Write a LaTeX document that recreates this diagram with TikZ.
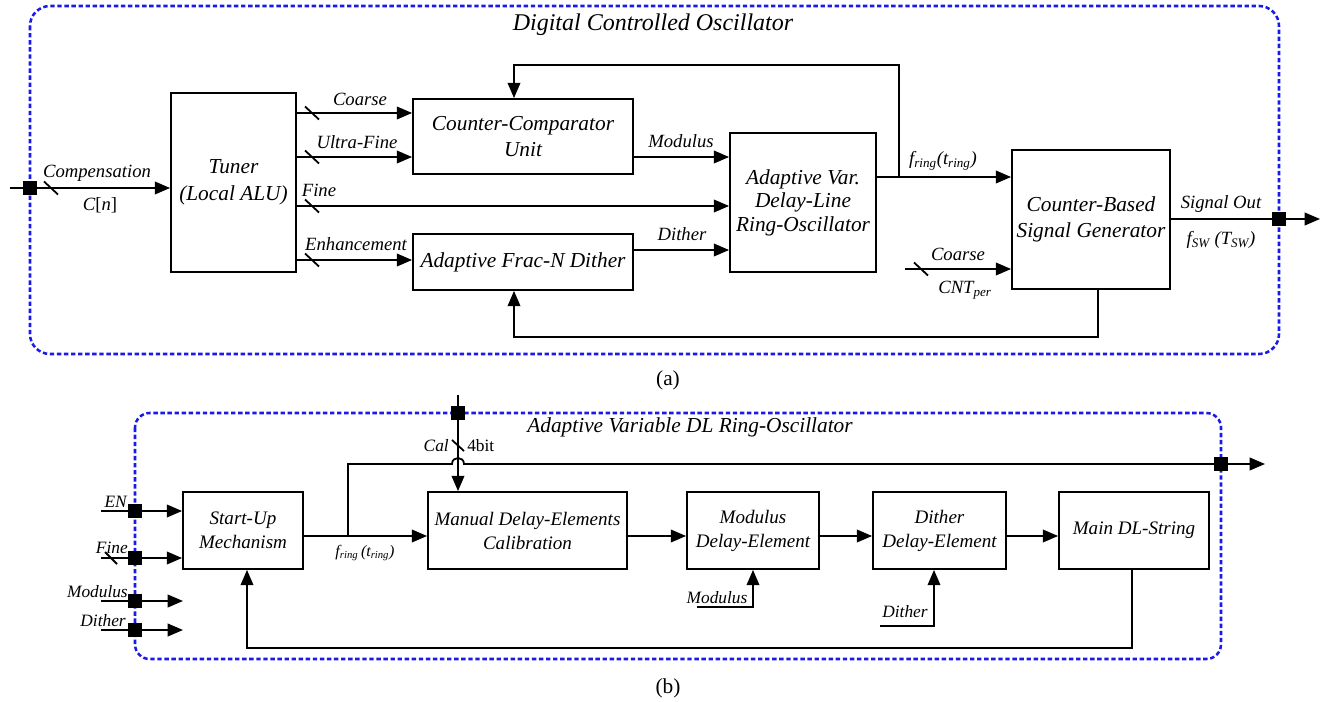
\documentclass[tikz,border=0pt]{standalone}
\usepackage{fontspec}
\setmainfont{Liberation Serif}
\usetikzlibrary{arrows.meta}
\begin{document}
\begin{tikzpicture}[x=0.75pt,y=-0.75pt,
  wire/.style={line width=1.35pt},
  arr/.style={wire,-{Triangle[length=11.5pt,width=9.5pt]}},
  blk/.style={draw,line width=1.35pt,align=center,inner sep=2pt,
              font=\fontsize{16}{19}\selectfont\itshape},
  blkb/.style={blk,font=\fontsize{14.3}{18}\selectfont\itshape},
  port/.style={fill=black,minimum size=10.5pt,inner sep=0pt},
  frame/.style={draw={rgb,255:red,25;green,25;blue,235},line width=1.9pt,
                dash pattern=on 3.3pt off 2pt},
  lbl/.style={inner sep=0pt,font=\fontsize{14}{16}\selectfont\itshape},
  lbls/.style={inner sep=0pt,font=\fontsize{13}{15}\selectfont\itshape},
  ttl/.style={inner sep=0pt,font=\fontsize{18}{20}\selectfont\itshape},
  captxt/.style={inner sep=0pt,font=\fontsize{16}{18}\selectfont}]
\useasboundingbox (0,0) rectangle (1335,702);

% ---------------- (a) Digital controlled oscillator ----------------
\draw[frame,rounded corners=15pt] (30,6) rectangle (1279,354);
\node[ttl] (ttla) at (653,25) {Digital Controlled Oscillator};

\node[blk,minimum width=93.75pt,minimum height=134.25pt,font=\fontsize{16}{20.5}\selectfont\itshape] (tuner) at (233.5,182.5) {Tuner\\(Local ALU)};
\node[blk,minimum width=165pt,minimum height=56.25pt] (ccu) at (523,136.5) {Counter-Comparator\\Unit};
\node[blk,minimum width=165pt,minimum height=42pt] (dith) at (523,262) {Adaptive Frac-N Dither};
\node[blk,minimum width=109.5pt,minimum height=104.25pt,font=\fontsize{16}{17.6}\selectfont\itshape] (avdl) at (803,202.5) {Adaptive Var.\\Delay-Line\\Ring-Oscillator};
\node[blk,minimum width=118.5pt,minimum height=104.25pt] (cbsg) at (1091,219.5) {Counter-Based\\Signal Generator};

% compensation input
\coordinate (cin) at (10,188);
\draw[arr] (cin) -- (tuner.west |- cin);
\node[port] (pa1) at (30,188) {};
\draw[wire] (44,181.5) -- (58,194.5);
\node[lbl] (lcomp) at (97,173) {Compensation};
\node[lbl] (lcn) at (100,205) {\textit{C}\textup{[}\textit{n}\textup{]}};

% tuner outputs
\coordinate (yCo) at (0,113);
\coordinate (yUf) at (0,157);
\coordinate (yFi) at (0,206);
\coordinate (yEn) at (0,260);
\draw[arr] (tuner.east |- yCo) -- (ccu.west |- yCo);
\draw[arr] (tuner.east |- yUf) -- (ccu.west |- yUf);
\draw[arr] (tuner.east |- yFi) -- (avdl.west |- yFi);
\draw[arr] (tuner.east |- yEn) -- (dith.west |- yEn);
\foreach \yy in {113,157,206,260}
  \draw[wire] (305,\yy-6.5) -- (319,\yy+6.5);
\node[lbl] (lco) at (360,99) {Coarse};
\node[lbl] (luf) at (357,142) {Ultra-Fine};
\node[lbl] (lfi) at (319,190) {Fine};
\node[lbl] (len) at (356,244) {Enhancement};

% into the ring oscillator
\coordinate (yMo) at (0,157);
\coordinate (yDi) at (0,250);
\draw[arr] (ccu.east |- yMo) -- (avdl.west |- yMo);
\draw[arr] (dith.east |- yDi) -- (avdl.west |- yDi);
\node[lbl] (lmo) at (681,141) {Modulus};
\node[lbl] (ldi) at (682,234) {Dither};

% ring frequency and feedback to the counter-comparator
\coordinate (yRi) at (0,177);
\coordinate (jR) at (899,177);
\coordinate (fbB) at (514,65);
\draw[arr] (avdl.east |- yRi) -- (cbsg.west |- yRi);
\draw[arr] (jR) |- (fbB) -- (ccu.north -| fbB);
\node[lbl] (lfr) at (943,161) {\textit{f}\textsubscript{\textit{ring}}(\textit{t}\textsubscript{\textit{ring}})};

% coarse period input
\coordinate (cin2) at (905,269);
\draw[arr] (cin2) -- (cbsg.west |- cin2);
\draw[wire] (914,262.5) -- (928,275.5);
\node[lbl] (lco2) at (958,254) {Coarse};
\node[lbl] (lcnt) at (965,290) {\textit{CNT}\textsubscript{\textit{per}}};

% signal output
\coordinate (sout) at (1320,219);
\draw[arr] (cbsg.east |- sout) -- (sout);
\node[port] (pa2) at (1279,219) {};
\node[lbl] (lso) at (1221,204) {Signal Out};
\node[lbl] (lfs) at (1221,240) {\textit{f}\textsubscript{\textit{SW}} (\textit{T}\textsubscript{\textit{SW}})};

% feedback to the dither
\coordinate (fbC) at (1098,337);
\coordinate (fbD) at (514,337);
\draw[arr] (cbsg.south -| fbC) |- (fbD) -- (dith.south -| fbD);

\node[captxt] (capa) at (668,380) {(a)};

% ---------------- (b) Adaptive variable DL ring oscillator ----------------
\draw[frame,rounded corners=11pt] (135,413) rectangle (1221,659);
\node[lbl,font=\fontsize{16}{18}\selectfont\itshape] (ttlb) at (690,427) {Adaptive Variable DL Ring-Oscillator};

\node[blkb,minimum width=90pt,minimum height=57.75pt] (sum) at (243,530.5) {Start-Up\\Mechanism};
\node[blkb,minimum width=149.25pt,minimum height=57.75pt] (mdc) at (527.5,530.5) {Manual Delay-Elements\\Calibration};
\node[blkb,minimum width=99pt,minimum height=57.75pt] (mde) at (753,530.5) {Modulus\\Delay-Element};
\node[blkb,minimum width=99.75pt,minimum height=57.75pt] (dde) at (939.5,530.5) {Dither\\Delay-Element};
\node[blkb,minimum width=112.5pt,minimum height=57.75pt] (mdl) at (1134,530.5) {Main DL-String};

% left-hand inputs
\coordinate (iEN) at (101,511);
\coordinate (iFi) at (101,558);
\coordinate (iMo) at (101,601);
\coordinate (iDi) at (101,630);
\coordinate (eMo) at (183,601);
\coordinate (eDi) at (183,630);
\draw[arr] (iEN) -- (sum.west |- iEN);
\draw[arr] (iFi) -- (sum.west |- iFi);
\draw[arr] (iMo) -- (eMo);
\draw[arr] (iDi) -- (eDi);
\node[port] (pb1) at (135,511) {};
\node[port] (pb2) at (135,558) {};
\node[port] (pb3) at (135,601) {};
\node[port] (pb4) at (135,630) {};
\draw[wire] (105,552) -- (117,564);
\node[lbls,anchor=base east] (len2) at (127,507) {EN};
\node[lbls,anchor=base east] (lfi2) at (128,553) {Fine};
\node[lbls,anchor=base east] (lmo2) at (128,597) {Modulus};
\node[lbls,anchor=base east] (ldi2) at (126,626) {Dither};

% main chain
\coordinate (yM) at (0,536);
\draw[arr] (sum.east |- yM) -- (mdc.west |- yM);
\draw[arr] (mdc.east |- yM) -- (mde.west |- yM);
\draw[arr] (mde.east |- yM) -- (dde.west |- yM);
\draw[arr] (dde.east |- yM) -- (mdl.west |- yM);
\node[lbls,font=\fontsize{12}{14}\selectfont\itshape] (lfr2) at (365,553) {\textit{f}\textsubscript{\textit{ring}}\,(\textit{t}\textsubscript{\textit{ring}})};

% ring output, hopping over the calibration bus
\coordinate (br) at (348,536);
\coordinate (tp) at (348,464);
\coordinate (jl) at (452,464);
\coordinate (jr) at (464,464);
\coordinate (bout) at (1265,464);
\draw[arr] (br) -- (tp) -- (jl) .. controls (452,456) and (464,456) .. (jr) -- (bout);
\node[port] (pb5) at (1221,464) {};

% calibration bus
\coordinate (calin) at (458,395);
\draw[arr] (calin) -- (mdc.north -| calin);
\node[port] (pb6) at (458,413) {};
\draw[wire] (452,440) -- (464,451);
\node[lbls,anchor=east] (lcal) at (449,446) {Cal};
\node[inner sep=0pt,anchor=west,font=\fontsize{13}{15}\selectfont] (l4b) at (467,446) {4bit};

% modulus and dither control inputs
\coordinate (mi) at (697,607);
\draw[arr] (mi) -| (mde.south);
\node[lbls,anchor=base] (lmo3) at (717,603) {Modulus};
\coordinate (di) at (880,626);
\coordinate (dx) at (934,0);
\draw[arr] (di) -| (dde.south -| dx);
\node[lbls,anchor=base] (ldi3) at (905,617) {Dither};

% feedback to the start-up mechanism
\coordinate (fb1) at (1132,648);
\coordinate (fb2) at (247,648);
\draw[arr] (mdl.south -| fb1) |- (fb2) -- (sum.south -| fb2);

\node[captxt] (capb) at (668,688) {(b)};
\end{tikzpicture}
\end{document}
